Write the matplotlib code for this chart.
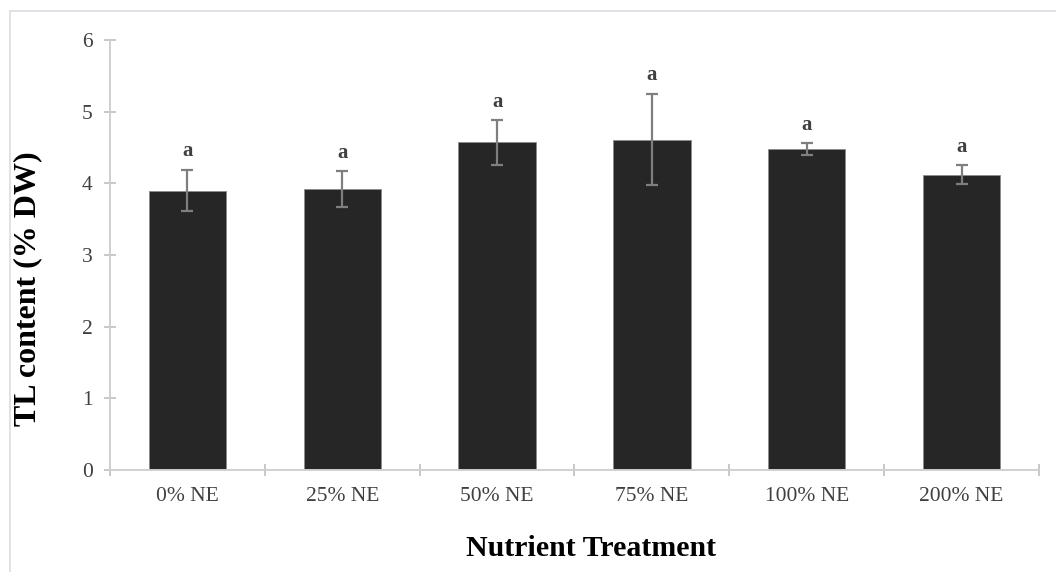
import matplotlib
matplotlib.use("Agg")
import matplotlib.pyplot as plt
from matplotlib.lines import Line2D
import numpy as np

categories = ["0% NE", "25% NE", "50% NE", "75% NE", "100% NE", "200% NE"]
values = [3.90, 3.92, 4.57, 4.61, 4.48, 4.12]
errors = [0.29, 0.25, 0.31, 0.64, 0.08, 0.13]
letters = ["a", "a", "a", "a", "a", "a"]
yticks = [0, 1, 2, 3, 4, 5, 6]

plt.rcParams['font.family'] = ['Liberation Serif', 'DejaVu Serif']

W, H = 1056, 572
fig = plt.figure(figsize=(W / 100, H / 100), dpi=100)
ax = fig.add_axes([110 / W, 1 - 470 / H, (1039 - 110) / W, (470 - 40) / H])

x = np.arange(len(categories))
ax.bar(x, values, width=0.5, color="#262626", edgecolor="#8c8c8c", linewidth=0.6, zorder=2)
ax.errorbar(x, values, yerr=errors, fmt="none", ecolor="#7f7f7f", elinewidth=1.6,
            capsize=4.5, capthick=1.6, zorder=3)
for xi, v, e, t in zip(x, values, errors, letters):
    ax.text(xi, v + e + 0.12, t, ha="center", va="bottom", fontsize=15,
            fontweight="bold", color="#404040")

ax.set_xlim(-0.5, len(categories) - 0.5)
ax.set_ylim(0, 6)
ax.set_yticks(yticks)
ax.set_xticks(x)
ax.set_xticklabels(categories)
ax.set_xticks(np.arange(len(categories) + 1) - 0.5, minor=True)

for s in ["top", "right"]:
    ax.spines[s].set_visible(False)
for s in ["left", "bottom"]:
    ax.spines[s].set_color("#d0d0d0")
    ax.spines[s].set_linewidth(1.4)

ax.tick_params(axis="y", direction="inout", length=9, width=1.4, color="#c8c8c8",
               labelsize=15.5, labelcolor="#404040", pad=8)
ax.tick_params(axis="x", which="major", direction="in", length=3, width=1.4,
               color="#c8c8c8", labelsize=15.5, labelcolor="#404040", pad=12)
ax.tick_params(axis="x", which="minor", direction="inout", length=9, width=1.4,
               color="#c8c8c8")

fig.text(591 / W, 1 - 548 / H, "Nutrient Treatment", ha="center", va="center",
         fontsize=21.5, fontweight="bold", color="black")
fig.text(28 / W, 1 - 289 / H, "TL content (% DW)", ha="center", va="center",
         rotation=90, fontsize=23, fontweight="bold", color="black")

# chart area border (left and top edges visible)
fig.add_artist(Line2D([10 / W, 10 / W], [0, 1 - 11 / H], transform=fig.transFigure,
                      color="#d9dee3", linewidth=1.2))
fig.add_artist(Line2D([10 / W, 1], [1 - 11 / H, 1 - 11 / H], transform=fig.transFigure,
                      color="#d9dee3", linewidth=1.2))

fig.savefig("out.png", dpi=100)
